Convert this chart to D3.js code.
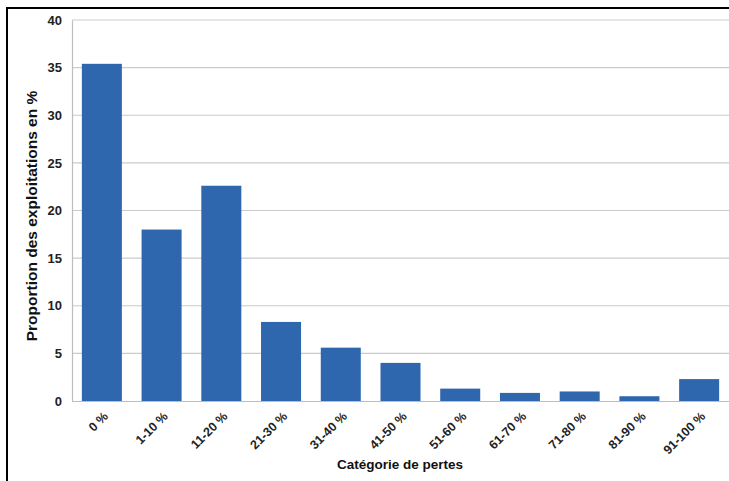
<!DOCTYPE html>
<html><head><meta charset="utf-8">
<script src="https://cdn.jsdelivr.net/npm/d3@7"></script>
<style>body{margin:0;background:#fff}svg{display:block;font-family:"Liberation Sans",Arial,sans-serif}</style>
</head><body><svg id="c" width="729" height="481"></svg>
<script>
const categories = ["0 %","1-10 %","11-20 %","21-30 %","31-40 %","41-50 %","51-60 %","61-70 %","71-80 %","81-90 %","91-100 %"];
const values = [35.4, 18.0, 22.6, 8.3, 5.6, 4.0, 1.3, 0.85, 1.0, 0.5, 2.3];
const yTicks = [0,5,10,15,20,25,30,35,40];
const yTitle = "Proportion des exploitations en %";
const xTitle = "Catégorie de pertes";

const svg = d3.select("#c");
const x = d3.scaleBand().domain(categories).range([72, 729]).paddingInner(0.33).paddingOuter(0.165);
const y = d3.scaleLinear().domain([0,40]).range([401, 20]);

// frame
svg.append("path").attr("d","M7,481V8H729").attr("fill","none").attr("stroke","#000").attr("stroke-width",2);

// gridlines
svg.append("g").selectAll("line").data(yTicks.filter(d=>d>0)).join("line")
  .attr("x1",72).attr("x2",729).attr("y1",d=>y(d)).attr("y2",d=>y(d))
  .attr("stroke","#cdc9cd").attr("stroke-width",1.2);

// bars
svg.append("g").selectAll("rect").data(values).join("rect")
  .attr("x",(d,i)=>x(categories[i])).attr("width",x.bandwidth())
  .attr("y",d=>y(d)).attr("height",d=>y(0)-y(d)).attr("fill","#2f67af");

// y axis
const ya = svg.append("g").attr("transform","translate(72,0)")
  .call(d3.axisLeft(y).tickValues(yTicks).tickSize(0).tickPadding(10));
ya.select(".domain").attr("stroke","#bdbdbd").attr("stroke-width",1.2);
ya.selectAll("text").attr("font-size",13).attr("font-weight","bold").attr("fill","#222").attr("font-family","Liberation Sans, Arial, sans-serif");

// x axis
const xa = svg.append("g").attr("transform","translate(0,401)")
  .call(d3.axisBottom(x).tickSize(0).tickPadding(0));
xa.select(".domain").attr("stroke","#bdbdbd").attr("stroke-width",1.2).attr("d","M72,0.5H729");
xa.selectAll("text").attr("font-size",12.5).attr("font-weight","bold").attr("fill","#222")
  .attr("font-family","Liberation Sans, Arial, sans-serif")
  .attr("text-anchor","end").attr("y",null)
  .attr("transform","translate(4,13) rotate(-45)").attr("dy","0.35em");

// titles
svg.append("text").attr("transform","translate(37,216) rotate(-90)").attr("text-anchor","middle")
  .attr("font-size",15.5).attr("font-weight","bold").attr("fill","#111").text(yTitle);
svg.append("text").attr("x",400).attr("y",469).attr("text-anchor","middle")
  .attr("font-size",13.5).attr("font-weight","bold").attr("fill","#111").text(xTitle);
</script></body></html>
